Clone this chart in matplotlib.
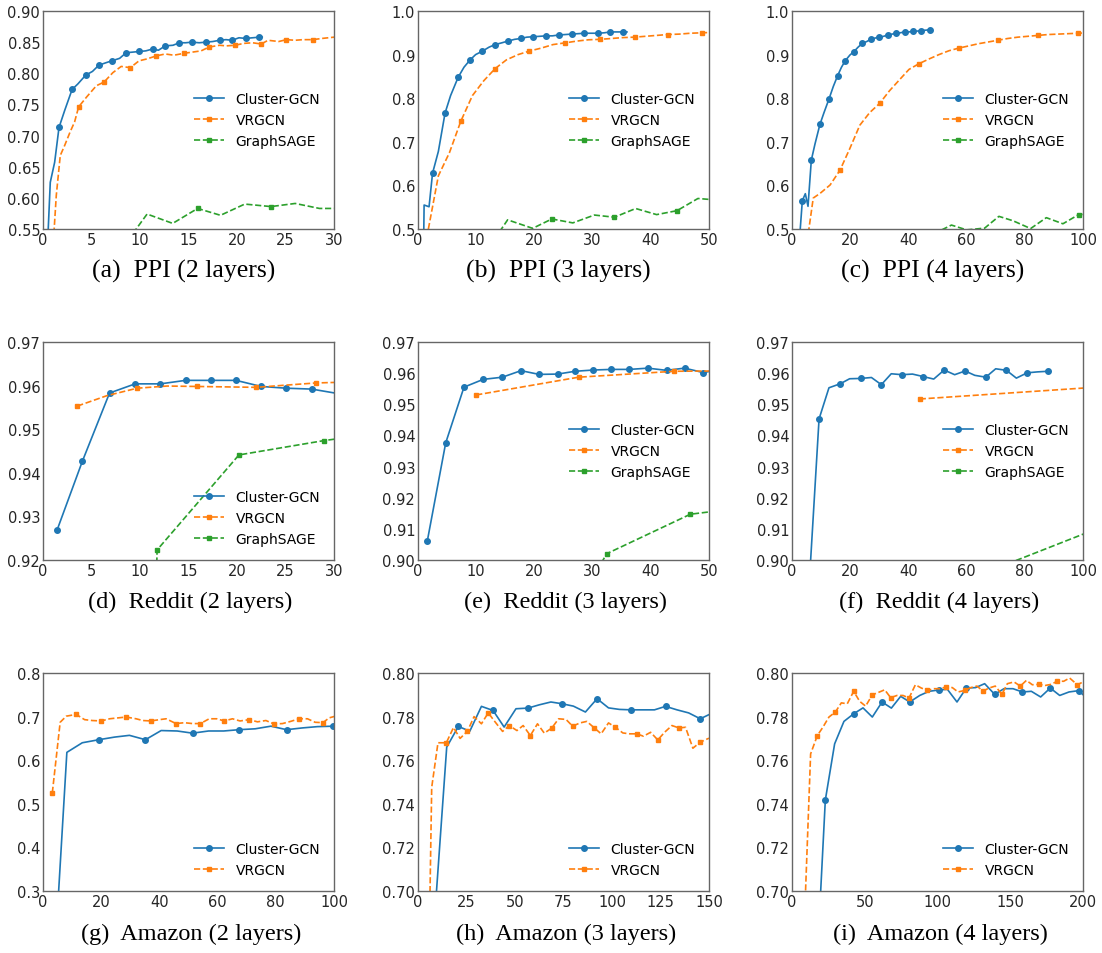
import matplotlib
matplotlib.use('Agg')
import matplotlib.pyplot as plt
from matplotlib.ticker import FormatStrFormatter, MultipleLocator

# ---------------------------------------------------------------------------
# Data: (time, accuracy) per panel; markers every few points as in the paper
# ---------------------------------------------------------------------------
a_cgcn_x = [0.4, 0.75, 1.2, 1.65, 2.25, 3.0, 3.6, 4.4, 5.1, 5.76, 6.5, 7.1, 7.9, 8.57, 9.26,
            9.94, 10.6, 11.3, 11.9, 12.6, 13.4, 14.06, 14.7, 15.36, 16.1, 16.8, 17.5, 18.2,
            18.86, 19.5, 20.2, 20.9, 21.6, 22.3, 22.6]
a_cgcn_y = [0.50, 0.625, 0.657, 0.713, 0.741, 0.774, 0.783, 0.797, 0.803, 0.813, 0.817, 0.820,
            0.824, 0.833, 0.834, 0.835, 0.836, 0.839, 0.837, 0.844, 0.845, 0.849, 0.849, 0.850,
            0.849, 0.850, 0.851, 0.853, 0.854, 0.853, 0.857, 0.856, 0.857, 0.858, 0.858]
a_vr_x = [0.95, 1.37, 1.78, 2.23, 2.8, 3.26, 3.67, 4.5, 5.5, 6.3, 7.2, 8.06, 9.0, 9.9, 10.7,
          11.7, 12.6, 13.5, 14.5, 15.4, 16.3, 17.1, 18.2, 18.9, 19.8, 20.7, 21.6, 22.5, 23.2,
          24.3, 25.1, 26.0, 26.8, 27.8, 28.8, 30.0, 30.8]
a_vr_y = [0.50, 0.604, 0.668, 0.684, 0.706, 0.722, 0.746, 0.762, 0.780, 0.786, 0.801, 0.811,
          0.809, 0.820, 0.823, 0.828, 0.831, 0.829, 0.832, 0.834, 0.836, 0.842, 0.845, 0.844,
          0.845, 0.848, 0.849, 0.847, 0.853, 0.851, 0.854, 0.853, 0.854, 0.854, 0.856, 0.858, 0.859]
a_gs_x = [8.2, 10.73, 13.37, 15.94, 18.3, 20.8, 23.5, 26.0, 28.5, 31.0]
a_gs_y = [0.52, 0.574, 0.559, 0.583, 0.572, 0.590, 0.586, 0.591, 0.583, 0.583]

b_cgcn_x = [0.9, 1.05, 1.9, 2.5, 3.5, 4.65, 5.6, 6.9, 7.9, 8.96, 9.9, 11.08, 12.2, 13.26, 14.4,
            15.44, 16.6, 17.7, 18.7, 19.8, 20.95, 22.0, 23.1, 24.2, 25.3, 26.4, 27.5, 28.6,
            29.7, 30.9, 32.0, 33.07, 34.2, 35.3, 35.9]
b_cgcn_y = [0.40, 0.555, 0.551, 0.628, 0.678, 0.766, 0.806, 0.848, 0.871, 0.888, 0.900, 0.908,
            0.917, 0.923, 0.927, 0.931, 0.935, 0.937, 0.940, 0.941, 0.942, 0.943, 0.943, 0.945,
            0.946, 0.947, 0.948, 0.949, 0.949, 0.949, 0.950, 0.952, 0.952, 0.952, 0.952]
b_vr_x = [1.5, 3.5, 5.4, 7.35, 9.35, 11.3, 13.26, 15.2, 17.2, 19.1, 21.2, 23.2, 25.3, 27.3,
          29.3, 31.3, 33.3, 35.2, 37.2, 39.1, 41.0, 42.9, 44.9, 46.8, 48.8, 50.8]
b_vr_y = [0.48, 0.622, 0.675, 0.747, 0.806, 0.840, 0.868, 0.888, 0.900, 0.908, 0.915, 0.923,
          0.927, 0.931, 0.934, 0.935, 0.937, 0.939, 0.940, 0.942, 0.944, 0.946, 0.947, 0.949,
          0.950, 0.951]
b_gs_x = [12.3, 15.4, 19.7, 23.0, 26.6, 30.3, 33.75, 37.4, 41.0, 44.5, 48.1, 51.7]
b_gs_y = [0.46, 0.521, 0.5015, 0.523, 0.514, 0.532, 0.527, 0.547, 0.533, 0.542, 0.570, 0.566]

c_cgcn_x = [2.5, 3.55, 4.58, 5.5, 6.64, 7.9, 9.6, 11.0, 12.7, 14.2, 15.7, 17.0, 18.3, 19.9,
            21.3, 22.7, 24.2, 25.7, 27.0, 28.6, 30.0, 31.5, 32.9, 34.4, 35.9, 37.2, 38.7, 40.1,
            41.6, 43.1, 44.4, 45.9, 47.4, 48.0]
c_cgcn_y = [0.47, 0.565, 0.581, 0.552, 0.658, 0.695, 0.740, 0.767, 0.798, 0.827, 0.852, 0.871,
            0.886, 0.899, 0.907, 0.917, 0.926, 0.930, 0.935, 0.938, 0.940, 0.942, 0.945, 0.947,
            0.949, 0.950, 0.952, 0.952, 0.953, 0.954, 0.955, 0.956, 0.957, 0.957]
c_vr_x = [5.6, 7.3, 9.7, 13.1, 16.5, 19.9, 23.3, 26.7, 30.1, 33.5, 36.9, 40.2, 43.6, 47.1, 50.5,
          54.0, 57.4, 60.8, 64.1, 67.5, 70.8, 74.2, 77.6, 81.1, 84.5, 88.0, 91.4, 94.9, 98.3, 101.7]
c_vr_y = [0.49, 0.571, 0.582, 0.601, 0.635, 0.685, 0.738, 0.767, 0.788, 0.817, 0.842, 0.866,
          0.879, 0.890, 0.900, 0.909, 0.915, 0.920, 0.925, 0.929, 0.933, 0.937, 0.940, 0.942,
          0.944, 0.946, 0.947, 0.948, 0.949, 0.950]
c_gs_x = [46.0, 54.8, 60.0, 66.2, 71.1, 75.9, 82.0, 87.4, 93.1, 98.5, 104.0]
c_gs_y = [0.48, 0.509, 0.498, 0.502, 0.529, 0.519, 0.501, 0.526, 0.512, 0.533, 0.535]

d_cgcn_x = [1.44, 4.05, 6.86, 9.5, 12.1, 14.7, 17.3, 19.9, 22.5, 25.1, 27.7, 30.6]
d_cgcn_y = [0.9268, 0.9426, 0.9583, 0.9604, 0.9604, 0.9612, 0.9612, 0.9612, 0.9598, 0.9594,
            0.9592, 0.9581]
d_vr_x = [3.53, 6.6, 9.7, 12.8, 15.9, 19.0, 22.0, 25.0, 28.1, 31.2]
d_vr_y = [0.9553, 0.9577, 0.9594, 0.9599, 0.9598, 0.9597, 0.9596, 0.9601, 0.9606, 0.9608]
d_gs_x = [11.6, 11.76, 20.2, 29.0, 37.7]
d_gs_y = [0.905, 0.9223, 0.9441, 0.9474, 0.950]

e_cgcn_x = [1.6, 4.76, 7.9, 11.2, 14.5, 17.7, 20.8, 24.0, 27.0, 30.1, 33.2, 36.3, 39.5, 42.7,
            45.8, 49.0, 52.1]
e_cgcn_y = [0.9061, 0.9376, 0.9555, 0.9580, 0.9587, 0.9608, 0.9596, 0.9597, 0.9606, 0.9610,
            0.9612, 0.9612, 0.9616, 0.9609, 0.9616, 0.9602, 0.9612]
e_vr_x = [10.0, 27.6, 44.0, 52.0]
e_vr_y = [0.9530, 0.9587, 0.9606, 0.9607]
e_gs_x = [31.5, 32.4, 46.8, 61.2]
e_gs_y = [0.899, 0.9020, 0.9147, 0.9180]

f_cgcn_x = [5.0, 9.3, 12.7, 16.6, 19.8, 23.6, 27.3, 30.7, 34.1, 37.8, 41.4, 45.1, 48.7, 52.3,
            55.9, 59.5, 62.8, 66.6, 70.0, 73.7, 77.1, 80.8, 84.3, 88.0]
f_cgcn_y = [0.878, 0.9453, 0.9553, 0.9566, 0.9582, 0.9583, 0.9586, 0.9563, 0.9598, 0.9595,
            0.9597, 0.9589, 0.9581, 0.9610, 0.9595, 0.9607, 0.9593, 0.9587, 0.9614, 0.9609,
            0.9584, 0.9601, 0.9604, 0.9606]
f_vr_x = [43.9, 140.0]
f_vr_y = [0.9517, 0.9577]
f_gs_x = [60.0, 130.0]
f_gs_y = [0.8936, 0.9193]

g_cgcn_x = [2.8, 8.2, 13.5, 19.2, 24.6, 29.7, 35.2, 40.6, 46.1, 51.4, 56.9, 62.1, 67.4, 72.9,
            78.3, 83.7, 89.1, 94.3, 99.7, 105.0]
g_cgcn_y = [0.01, 0.618, 0.640, 0.647, 0.653, 0.657, 0.647, 0.668, 0.667, 0.662, 0.667, 0.667,
            0.670, 0.672, 0.678, 0.670, 0.674, 0.677, 0.678, 0.680]
g_vr_x = [3.2, 5.9, 8.0, 11.4, 14.3, 16.9, 20.0, 22.9, 25.7, 28.6, 32.0, 34.3, 37.1, 40.0, 42.3,
          45.7, 48.6, 51.4, 54.1, 57.1, 59.7, 62.3, 65.1, 67.7, 70.9, 73.7, 76.6, 79.4, 82.3,
          85.1, 88.0, 90.9, 93.5, 96.2, 98.3, 101.0]
g_vr_y = [0.525, 0.687, 0.701, 0.705, 0.693, 0.691, 0.690, 0.695, 0.697, 0.699, 0.695, 0.691,
          0.690, 0.693, 0.695, 0.684, 0.686, 0.684, 0.684, 0.695, 0.695, 0.690, 0.695, 0.690,
          0.693, 0.688, 0.691, 0.683, 0.684, 0.689, 0.695, 0.695, 0.687, 0.686, 0.697, 0.702]

h_cgcn_x = [8.9, 14.8, 20.8, 26.7, 32.7, 38.7, 44.4, 50.5, 56.7, 62.5, 68.5, 74.2, 80.1, 86.3,
            92.3, 98.2, 103.8, 109.9, 115.9, 121.9, 127.6, 133.5, 139.5, 145.5, 151.4]
h_cgcn_y = [0.692, 0.766, 0.7755, 0.7733, 0.7847, 0.7828, 0.7752, 0.7836, 0.7839, 0.7854,
            0.7867, 0.7859, 0.7848, 0.7821, 0.7882, 0.7840, 0.7833, 0.7831, 0.7831, 0.7831,
            0.7847, 0.7831, 0.7817, 0.7790, 0.7815]
h_vr_x = [3.5, 7.06, 10.3, 14.6, 18.3, 21.7, 25.5, 28.9, 32.7, 36.2, 39.8, 43.6, 47.0, 51.0,
          54.2, 57.9, 61.6, 65.1, 68.9, 72.5, 76.3, 79.7, 83.5, 87.0, 90.9, 94.4, 98.2, 101.6,
          105.6, 109.0, 112.8, 116.2, 119.9, 123.6, 127.1, 130.9, 134.5, 137.9, 141.7, 145.5, 150.0]
h_vr_y = [0.55, 0.7475, 0.768, 0.768, 0.775, 0.770, 0.7733, 0.780, 0.7767, 0.7817, 0.7775,
          0.7732, 0.7759, 0.7736, 0.7759, 0.7713, 0.7767, 0.7724, 0.7747, 0.7790, 0.7787,
          0.7756, 0.7771, 0.7778, 0.7748, 0.7721, 0.7771, 0.7752, 0.7725, 0.7721, 0.7721,
          0.7710, 0.7728, 0.7693, 0.7728, 0.7759, 0.7748, 0.7751, 0.7655, 0.7683, 0.7701]

i_cgcn_x = [16.5, 22.9, 29.3, 35.7, 42.4, 48.8, 55.2, 61.9, 68.3, 74.7, 80.9, 87.8, 94.2, 100.8,
            106.8, 113.4, 119.8, 126.2, 132.4, 139.3, 145.7, 151.9, 158.3, 164.5, 170.9, 177.5,
            184.0, 190.4, 197.0, 203.4]
i_cgcn_y = [0.658, 0.7417, 0.7675, 0.7778, 0.7813, 0.7840, 0.7798, 0.7867, 0.7839, 0.7893,
            0.7867, 0.7897, 0.7916, 0.7922, 0.7925, 0.7867, 0.7931, 0.7933, 0.7951, 0.7902,
            0.7928, 0.7928, 0.7913, 0.7916, 0.7890, 0.7931, 0.7897, 0.7913, 0.7919, 0.7880]
i_vr_x = [8.2, 12.8, 17.4, 21.3, 25.4, 29.8, 33.9, 38.0, 42.4, 46.5, 50.6, 55.2, 59.1, 63.7,
          67.8, 72.2, 76.3, 80.4, 84.8, 88.9, 93.0, 97.6, 101.5, 106.1, 110.2, 114.1, 118.7,
          122.8, 127.1, 131.3, 135.4, 139.7, 144.3, 148.0, 152.6, 156.9, 161.1, 165.2, 169.8,
          174.1, 178.2, 182.4, 186.7, 190.8, 196.1, 200.0]
i_vr_y = [0.68, 0.7629, 0.7713, 0.7752, 0.7798, 0.7821, 0.7863, 0.7859, 0.7916, 0.7870,
          0.7848, 0.7900, 0.7910, 0.7923, 0.7887, 0.7897, 0.7897, 0.7885, 0.7946, 0.7931,
          0.7920, 0.7928, 0.7928, 0.7936, 0.7933, 0.7913, 0.7920, 0.7933, 0.7940, 0.7917,
          0.7931, 0.7940, 0.7902, 0.7951, 0.7959, 0.7940, 0.7966, 0.7946, 0.7948, 0.7943,
          0.7948, 0.7963, 0.7962, 0.7977, 0.7946, 0.7959]

CAPTIONS = ['(a)  PPI (2 layers)', '(b)  PPI (3 layers)', '(c)  PPI (4 layers)',
            '(d)  Reddit (2 layers)', '(e)  Reddit (3 layers)', '(f)  Reddit (4 layers)',
            '(g)  Amazon (2 layers)', '(h)  Amazon (3 layers)', '(i)  Amazon (4 layers)']

BLUE, ORANGE, GREEN = '#1f77b4', '#ff7f0e', '#2ca02c'


def c4_marks(n):
    # panel (c) Cluster-GCN: first marker, then every other point from index 4
    return [1] + list(range(4, n, 2))


# panel spec: series list, xlim, xstep, ylim, ystep, fmt, legend loc
PANELS = [
    ([(a_cgcn_x, a_cgcn_y, (3, 2)), (a_vr_x, a_vr_y, (6, 3)), (a_gs_x, a_gs_y, (3, 3))],
     (0, 30), 5, (0.55, 0.90), 0.05, '%.2f', 'center right'),
    ([(b_cgcn_x, b_cgcn_y, (3, 2)), (b_vr_x, b_vr_y, (3, 3)), (b_gs_x, b_gs_y, (3, 3))],
     (0, 50), 10, (0.5, 1.0), 0.1, '%.1f', 'center right'),
    ([(c_cgcn_x, c_cgcn_y, c4_marks(len(c_cgcn_x))), (c_vr_x, c_vr_y, (4, 4)),
      (c_gs_x, c_gs_y, (9, 9))],
     (0, 100), 20, (0.5, 1.0), 0.1, '%.1f', 'center right'),
    ([(d_cgcn_x, d_cgcn_y, (0, 1)), (d_vr_x, d_vr_y, (0, 2)), (d_gs_x, d_gs_y, (1, 1))],
     (0, 30), 5, (0.92, 0.97), 0.01, '%.2f', 'lower right'),
    ([(e_cgcn_x, e_cgcn_y, (0, 1)), (e_vr_x, e_vr_y, (0, 1)), (e_gs_x, e_gs_y, (1, 1))],
     (0, 50), 10, (0.90, 0.97), 0.01, '%.2f', 'center right'),
    ([(f_cgcn_x, f_cgcn_y, (1, 2)), (f_vr_x, f_vr_y, (0, 1)), (f_gs_x, f_gs_y, (0, 1))],
     (0, 100), 20, (0.90, 0.97), 0.01, '%.2f', 'center right'),
    ([(g_cgcn_x, g_cgcn_y, (3, 3)), (g_vr_x, g_vr_y, (0, 3))],
     (0, 100), 20, (0.3, 0.8), 0.1, '%.1f', 'lower right'),
    ([(h_cgcn_x, h_cgcn_y, (2, 3)), (h_vr_x, h_vr_y, (3, 3))],
     (0, 150), 25, (0.70, 0.80), 0.02, '%.2f', 'lower right'),
    ([(i_cgcn_x, i_cgcn_y, (1, 3)), (i_vr_x, i_vr_y, (2, 3))],
     (0, 200), 50, (0.70, 0.80), 0.02, '%.2f', 'lower right'),
]

NAMES = ['Cluster-GCN', 'VRGCN', 'GraphSAGE']
STYLES = [(BLUE, '-', 'o', 4), (ORANGE, '--', 's', 3.5), (GREEN, '--', 's', 3.5)]

W, H = 1102, 954
COL_LEFT = [43, 418, 792]
ROW_TOP = [12, 343, 674]
AX_W, AX_H = 291, 218
CAP_Y = [271, 602, 934]
CAP_DX = [-5, 2, 3]          # caption shift from axes centre, per row (px)
CAP_SIZE = [18.5, 17.5, 17.5]

fig = plt.figure(figsize=(W / 100, H / 100), dpi=100)

for k, (series, xlim, xstep, ylim, ystep, fmt, loc) in enumerate(PANELS):
    r, c = divmod(k, 3)
    left = COL_LEFT[c] / W
    bottom = 1 - (ROW_TOP[r] + AX_H) / H
    ax = fig.add_axes([left, bottom, AX_W / W, AX_H / H])

    for j, (xs, ys, marks) in enumerate(series):
        color, ls, mk, ms = STYLES[j]
        ax.plot(xs, ys, color=color, ls=ls, lw=1.2, marker=mk, markersize=ms,
                markevery=marks, label=NAMES[j])

    ax.set_xlim(*xlim)
    ax.set_ylim(*ylim)
    ax.xaxis.set_major_locator(MultipleLocator(xstep))
    ax.yaxis.set_major_locator(MultipleLocator(ystep))
    ax.yaxis.set_major_formatter(FormatStrFormatter(fmt))
    ax.tick_params(length=0, pad=2, labelsize=10.5, colors='#262626')
    for sp in ax.spines.values():
        sp.set_color('#666666')
        sp.set_linewidth(1.0)

    ax.legend(loc=loc, frameon=False, fontsize=10, handlelength=2.2,
              numpoints=1, borderaxespad=0.6)

    cx = (COL_LEFT[c] + AX_W / 2 + CAP_DX[r]) / W
    fig.text(cx, 1 - CAP_Y[r] / H, CAPTIONS[k], ha='center', va='center',
             fontsize=CAP_SIZE[r], family='Liberation Serif', color='black')

fig.savefig('out.png', dpi=100)
